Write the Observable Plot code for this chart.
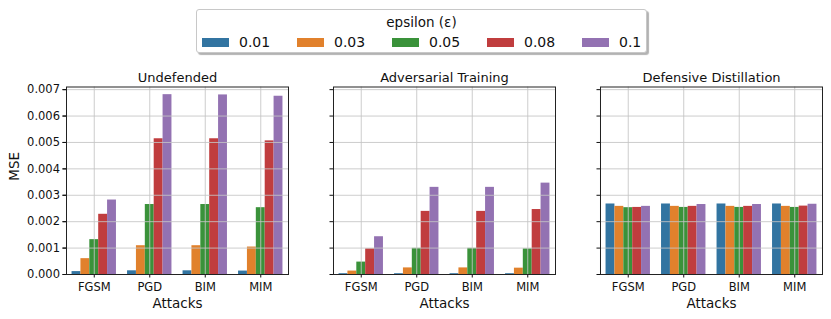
<!DOCTYPE html>
<html>
<head>
<meta charset="utf-8">
<script src="https://cdn.jsdelivr.net/npm/d3@7"></script>
<script src="https://cdn.jsdelivr.net/npm/@observablehq/plot@0.6"></script>
<style>
  html, body { margin: 0; padding: 0; background: #fff; }
  body { width: 831px; height: 319px; overflow: hidden; font-family: "DejaVu Sans", sans-serif; color: #111; }
  #top { position: relative; width: 831px; height: 60px; }
  #legend {
    position: absolute; left: 196px; top: 9px; width: 449px; height: 42px;
    border: 1px solid #c8c8c8; border-radius: 3px; background: #fff;
    box-shadow: 2px 2px 1px rgba(0,0,0,0.3);
  }
  #legend .title { position: absolute; left: 0; right: 0; top: 4px; text-align: center; font-size: 13.5px; line-height: 16px; }
  #legend .items { position: absolute; left: 5px; top: 24px; display: flex; }
  #legend .item { width: 95px; display: flex; align-items: center; height: 16px; }
  #legend .sw { width: 27px; height: 9px; margin-right: 10px; }
  #legend .lab { font-size: 14px; line-height: 16px; }
</style>
</head>
<body>
<div id="top"><div id="legend"><div class="title">epsilon (ε)</div><div class="items"></div></div></div>
<div id="chart"></div>
<script>
const panels = ["Undefended", "Adversarial Training", "Defensive Distillation"];
const attacks = ["FGSM", "PGD", "BIM", "MIM"];
const epsilons = ["0.01", "0.03", "0.05", "0.08", "0.1"];
const colors = ["#3274a1", "#e1812c", "#3a923a", "#c03d3e", "#9372b2"];
const yTicks = [0, 0.001, 0.002, 0.003, 0.004, 0.005, 0.006, 0.007];

// rows: attacks (FGSM, PGD, BIM, MIM); columns: epsilons
const undefended = [
  [0.00011, 0.00060, 0.00132, 0.00228, 0.00282],
  [0.00014, 0.00109, 0.00265, 0.00514, 0.00681],
  [0.00014, 0.00109, 0.00265, 0.00514, 0.00680],
  [0.00013, 0.00104, 0.00253, 0.00506, 0.00675]
];
const adversarial = [
  [0.00003, 0.00013, 0.00047, 0.00097, 0.00143],
  [0.00003, 0.00025, 0.00099, 0.00239, 0.00330],
  [0.00003, 0.00025, 0.00099, 0.00239, 0.00330],
  [0.00003, 0.00024, 0.00097, 0.00246, 0.00346]
];
const distillation = [
  [0.00267, 0.00258, 0.00253, 0.00254, 0.00258],
  [0.00267, 0.00258, 0.00254, 0.00258, 0.00265],
  [0.00267, 0.00258, 0.00254, 0.00258, 0.00265],
  [0.00267, 0.00258, 0.00254, 0.00259, 0.00266]
];

const tables = [undefended, adversarial, distillation];
const rows = [];
panels.forEach((p, pi) => {
  attacks.forEach((a, ai) => {
    epsilons.forEach((e, ei) => {
      rows.push({panel: p, attack: a, ai, eps: e, ei, mse: tables[pi][ai][ei]});
    });
  });
});

// legend
const items = document.querySelector("#legend .items");
epsilons.forEach((e, i) => {
  const it = document.createElement("div");
  it.className = "item";
  it.innerHTML = `<div class="sw" style="background:${colors[i]}"></div><div class="lab">${e}</div>`;
  items.appendChild(it);
});

const barW = 0.8 / epsilons.length;
const gridStyle = {stroke: "#c4c4c4", strokeOpacity: 0.85, strokeWidth: 1};

const chart = Plot.plot({
  width: 831,
  height: 259,
  marginLeft: 66,
  marginRight: 9,
  marginTop: 26.5,
  marginBottom: 45,
  style: {fontFamily: "DejaVu Sans, sans-serif", fontSize: "11px", color: "#111", background: "#fff"},
  fx: {domain: panels, paddingInner: 0.1685, paddingOuter: 0, round: false},
  x: {type: "linear", domain: [-0.5, 3.5]},
  y: {domain: [0, 0.0071], nice: false},
  color: {domain: epsilons, range: colors},
  marks: [
    Plot.rectY(rows, {
      fx: "panel",
      x1: d => d.ai - 0.4 + d.ei * barW,
      x2: d => d.ai - 0.4 + (d.ei + 1) * barW,
      y: "mse",
      fill: "eps"
    }),
    Plot.gridX({ticks: [0, 1, 2, 3], ...gridStyle}),
    Plot.gridY({ticks: yTicks, ...gridStyle}),
    Plot.axisY({ticks: yTicks, tickFormat: d3.format(".3f"), tickSize: 3.5, tickPadding: 3, label: null, fontSize: 11.5}),
    Plot.axisY({ticks: yTicks, tickFormat: () => "", tickSize: 3.5, label: null, facetAnchor: null}),
    Plot.axisX({ticks: [0, 1, 2, 3], tickFormat: i => attacks[i], tickSize: 3.5, tickPadding: 4.5, label: null, fontSize: 11.5}),
    Plot.axisFx({anchor: "top", tickSize: 0, tickPadding: 5, label: null, fontSize: 13}),
    Plot.text(panels, {fx: d => d, text: () => "Attacks", frameAnchor: "bottom", lineAnchor: "middle", dy: 29.5, fontSize: 13.5}),
    Plot.text(["MSE"], {fx: () => panels[0], text: d => d, frameAnchor: "left", rotate: -90, dx: -52, fontSize: 13.5}),
    Plot.frame({stroke: "#222", strokeWidth: 1})
  ]
});
document.getElementById("chart").appendChild(chart);
</script>
</body>
</html>
